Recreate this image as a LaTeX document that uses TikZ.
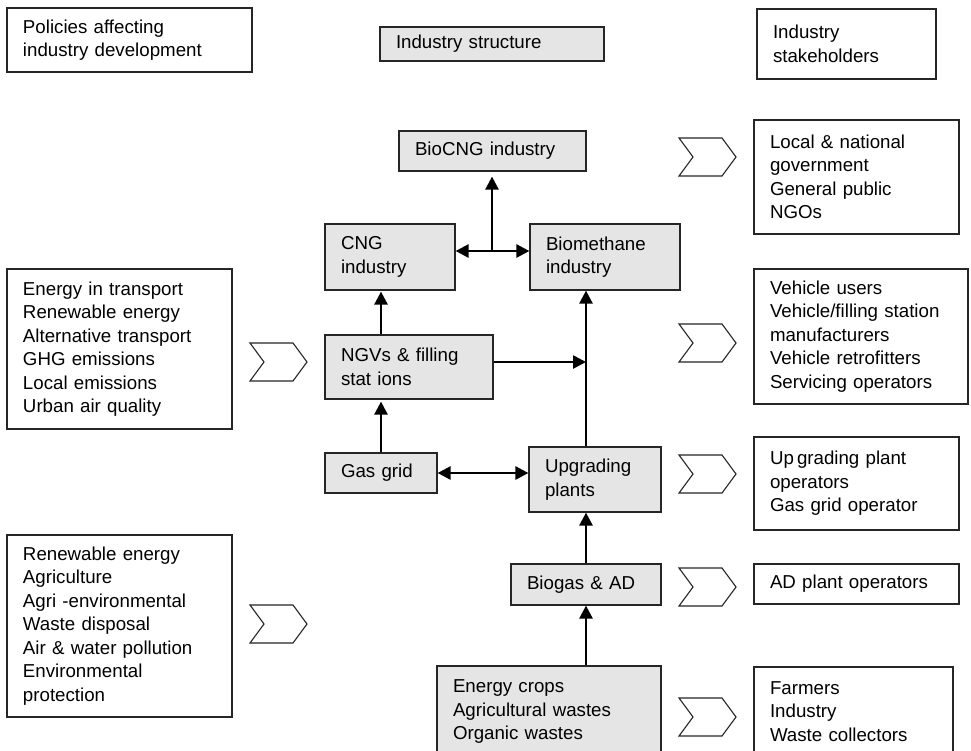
\documentclass[tikz,border=0pt]{standalone}
\usepackage{fontspec}
\setmainfont{Liberation Sans}
\usetikzlibrary{arrows.meta,calc}
\begin{document}
\begin{tikzpicture}[x=1pt,y=-1pt,
  font=\fontsize{18.7}{23.5}\selectfont,
  wbox/.style={draw=black!85, line width=1.2pt, fill=white, align=left, inner xsep=16pt, inner ysep=0pt},
  gbox/.style={wbox, fill=black!10},
  arr/.style={line width=2.6pt, -{Triangle[length=13pt,width=13pt]}},
  darr/.style={line width=2.6pt, {Triangle[length=13pt,width=13pt]}-{Triangle[length=13pt,width=13pt]}},
  chev/.pic={\draw[line width=1.1pt, draw=black!85, fill=white] (0,0)--(43,0)--(57,19)--(43,38)--(0,38)--(14,19)--cycle;}
]
\clip (0,0) rectangle (971,750);
\fill[white] (0,0) rectangle (971,750);

% header row
\node[wbox, minimum width=245pt, minimum height=64pt, text width=213pt] (pol) at (129.5,40) {Policies affecting\\industry development};
\node[gbox, minimum width=224pt, minimum height=34pt, text width=192pt] (struct) at (492,44) {Industry structure};
\node[wbox, minimum width=179pt, minimum height=70pt, text width=147pt] (stake) at (846.5,44) {Industry\\stakeholders};

% industry structure
\node[gbox, minimum width=187pt, minimum height=40pt, text width=155pt] (bio) at (492.5,151) {BioCNG industry};
\node[gbox, minimum width=130pt, minimum height=66pt, text width=98pt] (cng) at (390,257) {CNG\\industry};
\node[gbox, minimum width=150pt, minimum height=66pt, text width=118pt] (bm) at (605,257) {Biomethane\\industry};
\node[gbox, minimum width=168pt, minimum height=64pt, text width=136pt] (ngv) at (409,367) {NGVs \& filling\\stat ions};
\node[gbox, minimum width=112pt, minimum height=40pt, text width=80pt] (gas) at (381,473) {Gas grid};
\node[gbox, minimum width=132pt, minimum height=65pt, text width=100pt] (upg) at (595,479.5) {Upgrading\\plants};
\node[gbox, minimum width=150pt, minimum height=41pt, text width=118pt] (ad) at (586,584.5) {Biogas \& AD};
\node[gbox, minimum width=224pt, minimum height=91pt, text width=192pt] (src) at (549,711.5) {Energy crops\\Agricultural wastes\\Organic wastes};

% policies
\node[wbox, minimum width=225pt, minimum height=160pt, text width=193pt] (l1) at (119.5,349) {Energy in transport\\Renewable energy\\Alternative transport\\GHG emissions\\Local emissions\\Urban air quality};
\node[wbox, minimum width=225pt, minimum height=182pt, text width=193pt] (l2) at (119.5,626) {Renewable energy\\Agriculture\\Agri -environmental\\Waste disposal\\Air \& water pollution\\Environmental\\protection};

% stakeholders
\node[wbox, minimum width=205pt, minimum height=114pt, text width=173pt] (r1) at (856.5,177) {Local \& national\\government\\General public\\NGOs};
\node[wbox, minimum width=214pt, minimum height=135pt, text width=182pt] (r2) at (861,336.5) {Vehicle users\\Vehicle/filling station\\manufacturers\\Vehicle retrofitters\\Servicing operators};
\node[wbox, minimum width=205pt, minimum height=93pt, text width=173pt] (r3) at (856.5,483.5) {Up\,grading plant\\operators\\Gas grid operator};
\node[wbox, minimum width=205pt, minimum height=40pt, text width=173pt] (r4) at (856.5,584) {AD plant operators};
\node[wbox, minimum width=199pt, minimum height=89pt, text width=167pt] (r5) at (853.5,711.5) {Farmers\\Industry\\Waste collectors};

% chevrons
\pic at (679,138) {chev};
\pic at (679,324) {chev};
\pic at (679,455) {chev};
\pic at (679,568) {chev};
\pic at (679,698) {chev};
\pic at (250,343) {chev};
\pic at (250,605) {chev};

% connectors
\coordinate (J) at (492,251);
\coordinate (V) at (586,362);
\draw[darr] (J -| cng.east) -- (J -| bm.west);
\draw[arr, shorten >=5pt] (J) -- (J |- bio.south);
\draw[arr, shorten >=1pt] (gas.north |- ngv.north) -- (gas.north |- cng.south);
\draw[arr, shorten >=2pt] (gas.north) -- (gas.north |- ngv.south);
\draw[arr] (V -| ngv.east) -- (V);
\draw[arr] (ad.north |- upg.north) -- (ad.north |- bm.south);
\draw[darr] (gas.east) -- (gas.east -| upg.west);
\draw[arr] (ad.north) -- (ad.north |- upg.south);
\draw[arr] (ad.south |- src.north) -- (ad.south);
\end{tikzpicture}
\end{document}
